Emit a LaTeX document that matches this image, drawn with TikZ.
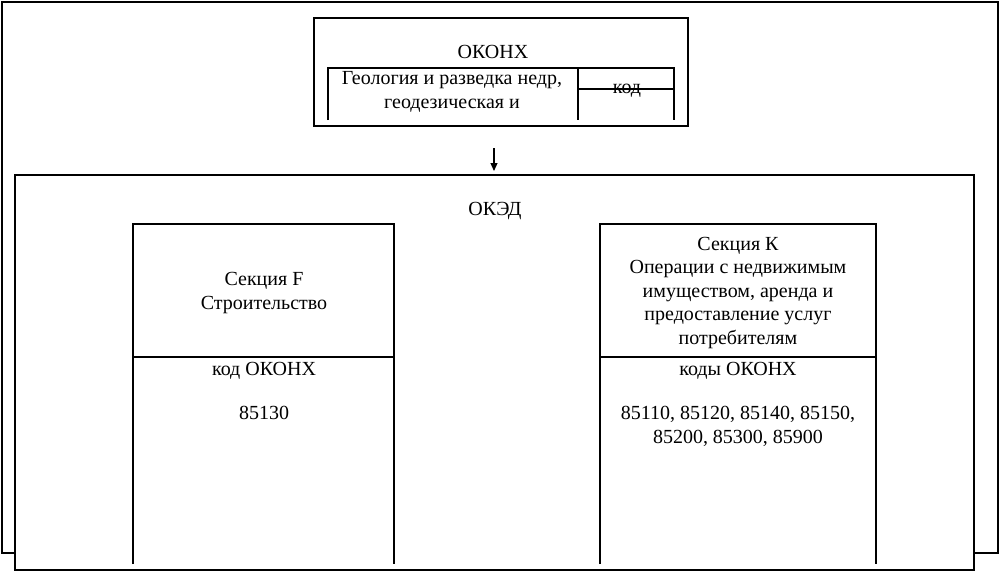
\documentclass[tikz,border=0pt]{standalone}
\usepackage{fontspec}
\setmainfont{Liberation Serif}
\usetikzlibrary{arrows.meta}
\begin{document}
\begin{tikzpicture}[x=1pt,y=-1pt,
  frame/.style={draw=black,line width=1.1pt},
  lbl/.style={anchor=base,align=center,inner sep=0pt,font=\fontsize{20}{23.5}\selectfont},
  arr/.style={line width=1.1pt,-{Triangle[width=7pt,length=8pt]}}]
\useasboundingbox (0,0) rectangle (1002,574);
% outer frame
\draw[frame] (2,2) rectangle (998,553);
% OKONH box
\node[frame,fill=white,minimum width=374pt,minimum height=108pt,inner sep=0pt] (okonh) at (501,72) {};
\node[lbl] (okonhT) at (493,58) {ОКОНХ};
% inner table
\coordinate (t1) at (328,120);
\coordinate (t2) at (328,68);
\coordinate (t3) at (674,68);
\coordinate (t4) at (674,120);
\coordinate (d1) at (578,68);
\coordinate (d2) at (578,120);
\coordinate (h1) at (578,89);
\coordinate (h2) at (674,89);
\draw[frame] (t1) -- (t2) -- (t3) -- (t4);
\draw[frame] (d1) -- (d2);
\node[lbl] (geo) at (452,108) {Геология и разведка недр,\\геодезическая и};
\node[lbl] (kod) at (627,93) {код};
\draw[frame] (h1) -- (h2);
% arrow
\coordinate (a1) at (494,148);
\coordinate (a2) at (494,171);
\draw[arr] (a1) -- (a2);
% OKVED box
\node[frame,fill=white,minimum width=959pt,minimum height=395pt,inner sep=0pt] (okved) at (494.5,372.5) {};
\node[lbl] (okvedT) at (495,215) {ОКЭД};
% left section
\coordinate (l1) at (133,564);
\coordinate (l2) at (133,224);
\coordinate (l3) at (394,224);
\coordinate (l4) at (394,564);
\coordinate (lm1) at (133,357);
\coordinate (lm2) at (394,357);
\draw[frame] (l1) -- (l2) -- (l3) -- (l4);
\draw[frame] (lm1) -- (lm2);
\node[lbl] (secF) at (264,309) {Секция F\\Строительство};
\node[lbl] (kodL) at (264,375) {код ОКОНХ};
\node[lbl] (numL) at (264,419) {85130};
% right section
\coordinate (r1) at (600,564);
\coordinate (r2) at (600,224);
\coordinate (r3) at (876,224);
\coordinate (r4) at (876,564);
\coordinate (rm1) at (600,357);
\coordinate (rm2) at (876,357);
\draw[frame] (r1) -- (r2) -- (r3) -- (r4);
\draw[frame] (rm1) -- (rm2);
\node[lbl] (secK) at (738,344) {Секция К\\Операции с недвижимым\\имуществом, аренда и\\предоставление услуг\\потребителям};
\node[lbl] (kodR) at (738,375) {коды ОКОНХ};
\node[lbl] (numR) at (738,443) {85110, 85120, 85140, 85150,\\85200, 85300, 85900};
\end{tikzpicture}
\end{document}
